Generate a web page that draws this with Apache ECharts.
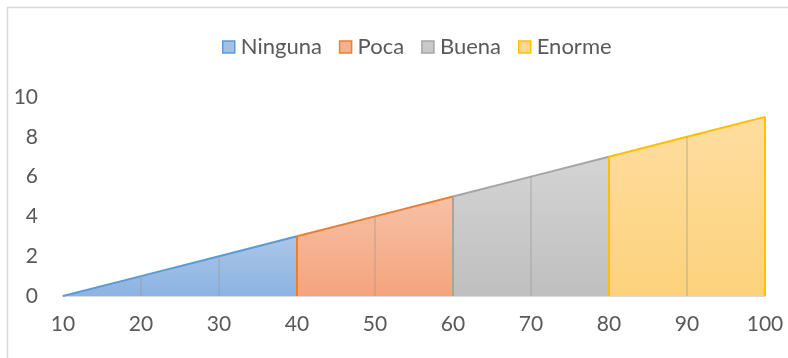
<!DOCTYPE html>
<html>
<head>
<meta charset="utf-8">
<script src="https://cdn.jsdelivr.net/npm/echarts@6/dist/echarts.min.js"></script>
<style>
  html, body { margin: 0; padding: 0; background: #fff; }
  #chart { width: 788px; height: 358px; }
</style>
</head>
<body>
<div id="chart"></div>
<script>
// Category axis values
const categories = ['10', '20', '30', '40', '50', '60', '70', '80', '90', '100'];
// Each band only covers its own stretch of the axis; '-' leaves a gap
const ninguna = [0, 1, 2, 3, '-', '-', '-', '-', '-', '-'];
const poca    = ['-', '-', '-', 3, 4, 5, '-', '-', '-', '-'];
const buena   = ['-', '-', '-', '-', '-', 5, 6, 7, '-', '-'];
const enorme  = ['-', '-', '-', '-', '-', '-', '-', 7, 8, 9];
const yTicks = { min: 0, max: 10, interval: 2 };

const seriesNames = ['Ninguna', 'Poca', 'Buena', 'Enorme'];
const seriesData = [ninguna, poca, buena, enorme];
const lineColors = ['#5b9bd5', '#ed7d31', '#a5a5a5', '#ffc000'];
const fillTop    = ['#abc6e9', '#f6c1a6', '#d4d4d4', '#fedd9f'];
const fillBottom = ['#8db3e2', '#f4a47d', '#bfbfbf', '#fdd27c'];
const legendFill = ['#a3c0e6', '#f4b08f', '#c9c9c9', '#fed88e'];

const FONT = 'Lato';
const TEXT = '#595959';

function grad(i) {
  return new echarts.graphic.LinearGradient(0, 0, 0, 1, [
    { offset: 0, color: fillTop[i] },
    { offset: 1, color: fillBottom[i] }
  ]);
}

// Vertical drop lines at every point of each band: edges in the band colour,
// inner ones as a soft grey
function dropLines(i) {
  const arr = seriesData[i];
  const idx = arr.map((v, k) => v === '-' ? -1 : k).filter(k => k >= 0);
  const first = idx[0], last = idx[idx.length - 1];
  const data = idx.map(k => [k, arr[k], (k === first || k === last) ? 1 : 0]);
  return {
    type: 'custom',
    name: seriesNames[i] + '-drop',
    z: 3 + i * 0.1,
    silent: true,
    data: data,
    encode: { x: 0, y: 1 },
    renderItem: function (params, api) {
      const x = api.value(0), y = api.value(1), edge = api.value(2);
      if (y === 0) return null;
      const top = api.coord([x, y]);
      const base = api.coord([x, 0]);
      return {
        type: 'line',
        shape: { x1: top[0], y1: top[1], x2: base[0], y2: base[1] },
        style: {
          stroke: edge ? lineColors[i] : 'rgba(150,150,150,0.45)',
          lineWidth: edge ? 2 : 1.5
        }
      };
    }
  };
}

const series = [];
seriesData.forEach((arr, i) => {
  series.push({
    name: seriesNames[i],
    type: 'line',
    data: arr,
    z: 2,
    symbol: 'none',
    connectNulls: false,
    lineStyle: { color: lineColors[i], width: 2 },
    itemStyle: { color: legendFill[i], borderColor: lineColors[i], borderWidth: 1.5 },
    areaStyle: { color: grad(i), opacity: 1, origin: 'start' }
  });
});
seriesData.forEach((arr, i) => series.push(dropLines(i)));

const chart = echarts.init(document.getElementById('chart'), null, { renderer: 'canvas' });
chart.setOption({
  animation: false,
  backgroundColor: '#ffffff',
  textStyle: { fontFamily: FONT, color: TEXT },
  graphic: [{
    type: 'rect',
    shape: { x: 7.5, y: 7.5, width: 800, height: 400 },
    style: { fill: 'none', stroke: '#d9d9d9', lineWidth: 1.5 },
    silent: true
  }],
  legend: {
    data: seriesNames.map((n, i) => ({
      name: n,
      icon: 'rect',
      itemStyle: { color: legendFill[i], borderColor: lineColors[i], borderWidth: 1.5 }
    })),
    top: 31,
    left: 217,
    itemWidth: 12,
    itemHeight: 12,
    itemGap: 17,
    textStyle: { fontFamily: FONT, fontSize: 22, color: TEXT, padding: [0, 0, 0, 1] }
  },
  grid: { left: 63, right: 23, top: 97, bottom: 62, containLabel: false },
  xAxis: {
    type: 'category',
    data: categories,
    boundaryGap: false,
    axisLine: { show: true, lineStyle: { color: '#d9d9d9', width: 2 } },
    axisTick: { show: false },
    splitLine: { show: false },
    axisLabel: { fontFamily: FONT, fontSize: 21, color: TEXT, margin: 18, interval: 0 }
  },
  yAxis: {
    type: 'value',
    min: yTicks.min,
    max: yTicks.max,
    interval: yTicks.interval,
    axisLine: { show: false },
    axisTick: { show: false },
    splitLine: { show: false },
    axisLabel: { fontFamily: FONT, fontSize: 21, color: TEXT, margin: 25 }
  },
  series: series
});
</script>
</body>
</html>
